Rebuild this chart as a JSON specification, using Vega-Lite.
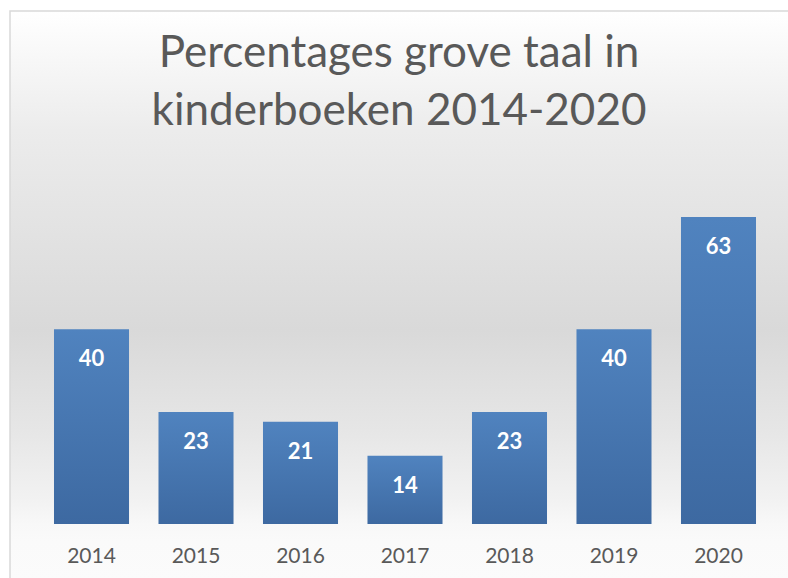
{
  "$schema": "https://vega.github.io/schema/vega-lite/v6.json",
  "autosize": "none",
  "width": 790,
  "height": 570,
  "padding": {"left": 10, "top": 11, "right": 0, "bottom": 0},
  "background": "#ffffff",
  "title": {
    "text": ["Percentages grove taal in", "kinderboeken 2014-2020"],
    "font": "Lato",
    "fontSize": 44,
    "fontWeight": "normal",
    "color": "#595959",
    "lineHeight": 58,
    "anchor": "middle",
    "frame": "group",
    "offset": -123,
    "dx": -6
  },
  "data": {
    "values": [
      {"year": "2014", "value": 40},
      {"year": "2015", "value": 23},
      {"year": "2016", "value": 21},
      {"year": "2017", "value": 14},
      {"year": "2018", "value": 23},
      {"year": "2019", "value": 40},
      {"year": "2020", "value": 63}
    ]
  },
  "encoding": {
    "x": {
      "field": "year",
      "type": "nominal",
      "sort": null,
      "scale": {"paddingInner": 0.282, "paddingOuter": 0.421, "align": 0.5},
      "axis": {
        "title": null,
        "orient": "bottom",
        "offset": -36,
        "domain": false,
        "ticks": false,
        "grid": false,
        "labelAngle": 0,
        "labelPadding": 0,
        "labelFont": "Lato",
        "labelFontSize": 21,
        "labelColor": "#595959"
      }
    },
    "y": {
      "field": "value",
      "type": "quantitative",
      "scale": {"domain": [-11.7, 105.3], "nice": false, "zero": false},
      "axis": null
    }
  },
  "layer": [
    {
      "mark": {
        "type": "bar",
        "color": {
          "gradient": "linear",
          "x1": 0, "y1": 0, "x2": 0, "y2": 1,
          "stops": [
            {"offset": 0, "color": "#5083bf"},
            {"offset": 1, "color": "#3d69a1"}
          ]
        }
      },
      "encoding": {
        "y2": {"datum": 0}
      }
    },
    {
      "mark": {
        "type": "text",
        "dy": 30,
        "baseline": "middle",
        "align": "center",
        "font": "Lato",
        "fontSize": 22,
        "fontWeight": "bold",
        "color": "#ffffff"
      },
      "encoding": {
        "text": {"field": "value", "type": "quantitative"}
      }
    }
  ],
  "config": {
    "view": {
      "stroke": "#d9d9d9",
      "strokeWidth": 1.5,
      "fill": {
        "gradient": "linear",
        "x1": 0, "y1": 0, "x2": 0, "y2": 1,
        "stops": [
          {"offset": 0, "color": "#ffffff"},
          {"offset": 0.21, "color": "#ececec"},
          {"offset": 0.56, "color": "#d9d9d9"},
          {"offset": 0.735, "color": "#e6e6e6"},
          {"offset": 0.858, "color": "#f2f2f2"},
          {"offset": 0.9, "color": "#f8f8f8"},
          {"offset": 0.93, "color": "#fafafa"},
          {"offset": 1, "color": "#fbfbfb"}
        ]
      }
    }
  }
}
